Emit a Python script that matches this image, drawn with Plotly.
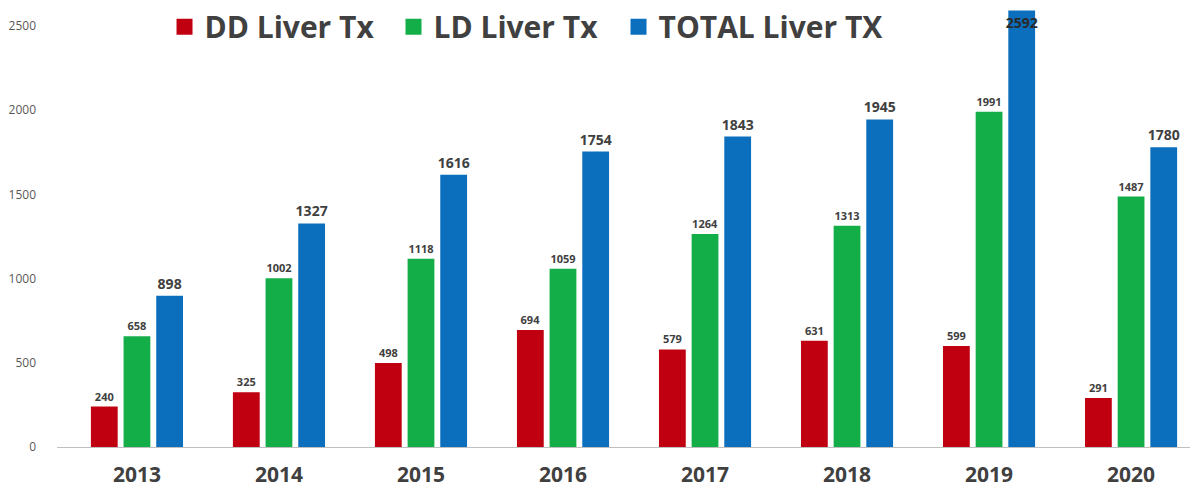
import plotly.graph_objects as go

years = ["2013", "2014", "2015", "2016", "2017", "2018", "2019", "2020"]
dd_liver = [240, 325, 498, 694, 579, 631, 599, 291]
ld_liver = [658, 1002, 1118, 1059, 1264, 1313, 1991, 1487]
total_liver = [898, 1327, 1616, 1754, 1843, 1945, 2592, 1780]

series_names = ["DD Liver Tx", "LD Liver Tx", "TOTAL Liver TX"]
series_values = [dd_liver, ld_liver, total_liver]
colors = ["#C00010", "#13AE47", "#0B6FBE"]
label_sizes = [11, 11, 14]
legend_ids = ["legend", "legend2", "legend3"]
legend_x = [0.0949, 0.2970, 0.4956]

Y_MAX = 2636
FONT = "Open Sans"
TEXT_COLOR = "#404040"

fig = go.Figure()
for name, vals, col, ls in zip(series_names, series_values, colors, label_sizes):
    # labels that would fall off the top of the page go just inside the bar top
    positions = ["inside" if v > Y_MAX - 150 else "outside" for v in vals]
    fig.add_trace(go.Bar(
        x=years, y=vals, name=name,
        marker=dict(color=col, line=dict(width=0)),
        text=vals, texttemplate="%{text}",
        textposition=positions, insidetextanchor="end", constraintext="none",
        textangle=0,
        textfont=dict(family=FONT, size=ls, color=TEXT_COLOR, weight="bold"),
        insidetextfont=dict(family=FONT, size=ls, color="#2A2A2A", weight="bold"),
        outsidetextfont=dict(family=FONT, size=ls, color=TEXT_COLOR, weight="bold"),
        cliponaxis=False, showlegend=False,
    ))
# legend entries (no data, only swatches)
for name, col, lid in zip(series_names, colors, legend_ids):
    fig.add_trace(go.Scatter(
        x=[None], y=[None], mode="markers", name=name,
        marker=dict(symbol="square", size=22, color=col),
        showlegend=True, legend=lid,
    ))

legend_style = dict(
    orientation="h", y=1.005, xanchor="left", yanchor="top",
    font=dict(family=FONT, size=30, color=TEXT_COLOR, weight="bold"),
    bgcolor="rgba(0,0,0,0)", itemwidth=30,
)
fig.update_layout(
    width=1203, height=490,
    margin=dict(l=57, r=13, t=1, b=43),
    paper_bgcolor="white", plot_bgcolor="white",
    barmode="group", bargap=0.31, bargroupgap=0.18,
    showlegend=True,
    font=dict(family=FONT, color=TEXT_COLOR),
    **{lid: dict(x=lx, **legend_style) for lid, lx in zip(legend_ids, legend_x)},
)
fig.update_xaxes(
    type="category", range=[-0.563, 7.415],
    showline=True, linecolor="#BFBFBF", linewidth=1,
    showgrid=False, ticks="",
    tickfont=dict(family=FONT, size=21, color=TEXT_COLOR, weight="bold"),
    ticklabelstandoff=9,
)
fig.update_yaxes(
    range=[0, Y_MAX], tickvals=[0, 500, 1000, 1500, 2000, 2500],
    showgrid=False, zeroline=False, showline=False, ticks="",
    tickfont=dict(family=FONT, size=12, color="#595959"),
    ticklabelstandoff=20,
)

fig.write_html("out.html", config={"displayModeBar": False},
               post_script="document.body.style.margin='0';")
